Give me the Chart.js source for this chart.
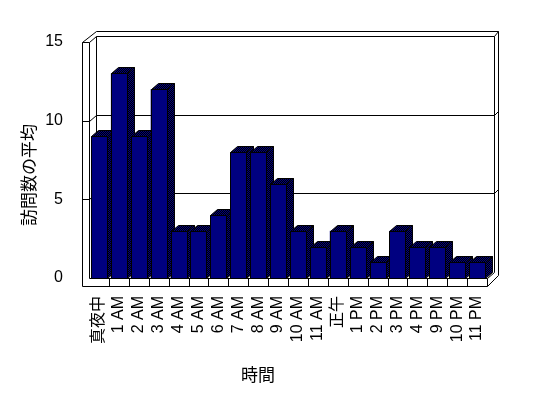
<!DOCTYPE html>
<html>
<head>
<meta charset="utf-8">
<script src="https://cdn.jsdelivr.net/npm/chart.js@4/dist/chart.umd.min.js"></script>
<style>
html, body { margin: 0; padding: 0; background: #fff; }
</style>
</head>
<body>
<canvas id="myChart" width="548" height="398"></canvas>
<script>
// data
var hours = ["真夜中", "1 AM", "2 AM", "3 AM", "4 AM", "5 AM", "6 AM", "7 AM", "8 AM", "9 AM",
             "10 AM", "11 AM", "正午", "1 PM", "2 PM", "3 PM", "4 PM", "9 PM", "10 PM", "11 PM"]
var visits = [9, 13, 9, 12, 3, 3, 4, 8, 8, 6, 3, 2, 3, 2, 1, 3, 2, 2, 1, 1]
var yTicks = [0, 5, 10, 15]
var xTitle = "時間"
var yTitle = "訪問数の平均"

var DX = 7, DY = 6      // depth offset of the 3d look
var WALL = 7            // left wall / floor thickness

// checker pattern for the shaded faces
var pc = document.createElement('canvas')
pc.width = 2; pc.height = 2
var pctx = pc.getContext('2d')
pctx.fillStyle = '#000080'
pctx.fillRect(0, 0, 2, 2)
pctx.fillStyle = '#000000'
pctx.fillRect(1, 0, 1, 1)
pctx.fillRect(0, 1, 1, 1)

function path(ctx, pts, close) {
    ctx.beginPath()
    ctx.moveTo(pts[0][0] + .5, pts[0][1] + .5)
    for (var i = 1; i < pts.length; i++) ctx.lineTo(pts[i][0] + .5, pts[i][1] + .5)
    if (close) ctx.closePath()
}

var box3d = {
    id: 'box3d',
    beforeDatasetsDraw: function(chart) {
        var ctx = chart.ctx, a = chart.chartArea, ys = chart.scales.y, xs = chart.scales.x
        var L = Math.round(a.left), R = Math.round(a.right), T = Math.round(a.top), B = Math.round(a.bottom)
        ctx.save()
        ctx.strokeStyle = '#000'
        ctx.lineWidth = 1

        // left wall + floor front
        path(ctx, [[L, T], [L, B], [R, B], [R, B + 8]]); ctx.stroke()
        path(ctx, [[L - WALL, T], [L - WALL, B + 8], [R, B + 8]]); ctx.stroke()
        path(ctx, [[L - WALL, T], [L, T]]); ctx.stroke()

        // back wall
        path(ctx, [[L, T], [L + DX, T - DY], [R + DX, T - DY], [R + DX, B - DY]]); ctx.stroke()
        path(ctx, [[L + DX, T - DY], [L + DX, B - DY]]); ctx.stroke()
        path(ctx, [[L - WALL, T], [L + DX, T - DY - 5], [R + DX + 4, T - DY - 5], [R + DX + 4, B + 8 - DY - 5], [R, B + 8]]); ctx.stroke()
        path(ctx, [[R + DX, T - DY], [R + DX + 4, T - DY - 5]]); ctx.stroke()
        path(ctx, [[R, B], [R + DX, B - DY]]); ctx.stroke()

        // grid lines
        for (var i = 1; i < yTicks.length - 1; i++) {
            var yy = Math.round(ys.getPixelForValue(yTicks[i]))
            path(ctx, [[L - WALL, yy], [L, yy], [L + DX, yy - DY], [R + DX, yy - DY], [R + DX + 4, yy - DY - 4]])
            ctx.stroke()
        }

        // floor dividers
        var w = (R - L) / hours.length
        for (var k = 1; k < hours.length; k++) {
            var xb = Math.round(xs.getPixelForValue(k) - w / 2)
            path(ctx, [[xb, B], [xb, B + 8]]); ctx.stroke()
        }
        ctx.restore()
    },
    afterDatasetsDraw: function(chart) {
        var ctx = chart.ctx
        var pattern = ctx.createPattern(pc, 'repeat')
        ctx.save()
        ctx.strokeStyle = '#000'
        ctx.lineWidth = 1
        chart.getDatasetMeta(0).data.forEach(function(bar) {
            var p = bar.getProps(['x', 'y', 'base', 'width'], true)
            var x0 = Math.round(p.x - p.width / 2), x1 = Math.round(p.x + p.width / 2)
            var yt = Math.round(p.y), yb = Math.round(p.base)
            ctx.fillStyle = pattern
            path(ctx, [[x1, yt], [x1 + DX, yt - DY], [x1 + DX, yb - DY], [x1, yb]], true)
            ctx.fill(); ctx.stroke()
            path(ctx, [[x0, yt], [x0 + DX, yt - DY], [x1 + DX, yt - DY], [x1, yt]], true)
            ctx.fill(); ctx.stroke()
            ctx.fillStyle = '#000080'
            path(ctx, [[x0, yt], [x1, yt], [x1, yb], [x0, yb]], true)
            ctx.fill(); ctx.stroke()
        })
        ctx.restore()
    },
    afterDraw: function(chart) {
        var ctx = chart.ctx
        ctx.save()
        ctx.fillStyle = '#000'
        ctx.font = '17px "Noto Sans CJK JP"'
        ctx.textAlign = 'center'
        ctx.textBaseline = 'middle'
        ctx.fillText(xTitle, 258, 375)
        ctx.translate(29, 175)
        ctx.rotate(-Math.PI / 2)
        ctx.fillText(yTitle, 0, 0)
        ctx.restore()
    }
}

Chart.defaults.color = '#000'
var labelFont = "'Liberation Sans', 'Noto Sans CJK JP', sans-serif"

var chart = new Chart(document.getElementById('myChart').getContext('2d'), {
    type: 'bar',
    data: {
        labels: hours,
        datasets: [{
            label: yTitle,
            data: visits,
            backgroundColor: '#000080',
            borderWidth: 0,
            barPercentage: 0.8,
            categoryPercentage: 1.0
        }]
    },
    options: {
        responsive: false,
        animation: false,
        devicePixelRatio: 1,
        layout: { padding: { top: 42, right: 61, bottom: 20, left: 0 } },
        plugins: { legend: { display: false }, tooltip: { enabled: false } },
        scales: {
            x: {
                grid: { display: false },
                border: { display: false },
                ticks: {
                    autoSkip: false,
                    maxRotation: 90,
                    minRotation: 90,
                    padding: 10,
                    font: { family: labelFont, size: 16 }
                },
                afterFit: function(scale) { scale.height = 100 }
            },
            y: {
                min: yTicks[0],
                max: yTicks[yTicks.length - 1],
                grid: { display: false },
                border: { display: false },
                ticks: {
                    stepSize: yTicks[1] - yTicks[0],
                    padding: 18,
                    font: { family: labelFont, size: 16 }
                },
                afterFit: function(scale) { scale.width = 89 }
            }
        }
    },
    plugins: [box3d]
})
</script>
</body>
</html>
